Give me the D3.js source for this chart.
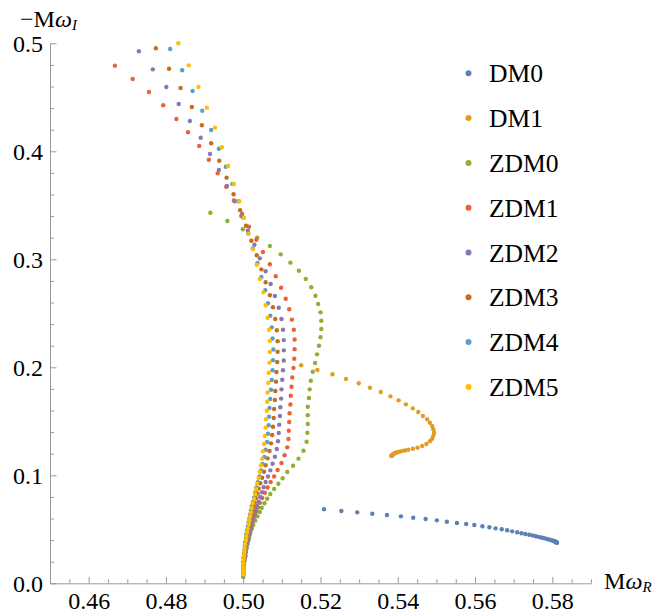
<!DOCTYPE html>
<html>
<head>
<meta charset="utf-8">
<script src="https://cdn.jsdelivr.net/npm/d3@7"></script>
<style>
body { margin: 0; background: #fff; }
svg { display: block; }
svg text { font-family: "Liberation Serif", "DejaVu Serif", "Times New Roman", serif; }
</style>
</head>
<body>
<svg width="669" height="614"></svg>
<script>
// series names, in legend order
var names = ['DM0', 'DM1', 'ZDM0', 'ZDM1', 'ZDM2', 'ZDM3', 'ZDM4', 'ZDM5']
var colors = ['#5E81B5', '#E19C24', '#8FB032', '#EB6235', '#8778B3', '#C56E1A', '#5D9EC7', '#FFBF00']

// [M omega_R, -M omega_I]
var dm0 = [[0.5209,0.0685],[0.5254,0.0669],[0.5295,0.0657],[0.5334,0.0644],[0.5372,0.0632],[0.5408,0.0620],[0.5440,0.0607],[0.5472,0.0595],[0.5501,0.0583],[0.5527,0.0570],[0.5553,0.0558],[0.5577,0.0549],[0.5598,0.0540],[0.5619,0.0528],[0.5637,0.0519],[0.5653,0.0509],[0.5669,0.0500],[0.5683,0.0491],[0.5696,0.0481],[0.5709,0.0472],[0.5720,0.0463],[0.5730,0.0456],[0.5740,0.0449],[0.5749,0.0442],[0.5757,0.0436],[0.5764,0.0430],[0.5771,0.0424],[0.5777,0.0419],[0.5783,0.0414],[0.5788,0.0409],[0.5793,0.0404],[0.5797,0.0400],[0.5800,0.0396],[0.5803,0.0393],[0.5805,0.0390],[0.5807,0.0387],[0.5808,0.0385],[0.5809,0.0383],[0.5810,0.0381],[0.5811,0.0379],[0.5811,0.0378],[0.5811,0.0377],[0.5812,0.0376]]

var dm1 = [[0.5150,0.2019],[0.5192,0.1975],[0.5231,0.1935],[0.5266,0.1892],[0.5299,0.1852],[0.5328,0.1811],[0.5356,0.1771],[0.5381,0.1731],[0.5402,0.1694],[0.5421,0.1657],[0.5439,0.1620],[0.5453,0.1586],[0.5465,0.1549],[0.5476,0.1519],[0.5483,0.1487],[0.5489,0.1456],[0.5492,0.1426],[0.5494,0.1394],[0.5492,0.1367],[0.5489,0.1339],[0.5483,0.1315],[0.5474,0.1290],[0.5463,0.1271],[0.5451,0.1256],[0.5439,0.1246],[0.5427,0.1237],[0.5418,0.1230],[0.5410,0.1224],[0.5404,0.1219],[0.5399,0.1214],[0.5395,0.1209],[0.5392,0.1204],[0.5390,0.1199],[0.5388,0.1195],[0.5387,0.1191],[0.5386,0.1188],[0.5385,0.1185],[0.5385,0.1183],[0.5384,0.1181],[0.5384,0.1180],[0.5384,0.1179]]

var zdm0 = [[0.4915,0.3431],[0.4959,0.3355],[0.4999,0.3278],[0.5036,0.3200],[0.5069,0.3123],[0.5097,0.3046],[0.5122,0.2969],[0.5144,0.2894],[0.5162,0.2818],[0.5176,0.2741],[0.5187,0.2663],[0.5194,0.2586],[0.5200,0.2509],[0.5202,0.2431],[0.5202,0.2355],[0.5200,0.2278],[0.5196,0.2200],[0.5191,0.2120],[0.5186,0.2040],[0.5180,0.1959],[0.5175,0.1876],[0.5172,0.1796],[0.5170,0.1716],[0.5167,0.1635],[0.5167,0.1556],[0.5167,0.1475],[0.5166,0.1394],[0.5164,0.1311],[0.5156,0.1228],[0.5143,0.1154],[0.5129,0.1089],[0.5114,0.1031],[0.5102,0.0972],[0.5091,0.0922],[0.5080,0.0873],[0.5070,0.0827],[0.5062,0.0783],[0.5055,0.0741],[0.5048,0.0700],[0.5043,0.0660],[0.5037,0.0620],[0.5031,0.0580],[0.5026,0.0540],[0.5022,0.0503],[0.5018,0.0463],[0.5015,0.0425],[0.5012,0.0388],[0.5009,0.0350],[0.5007,0.0312],[0.5005,0.0275],[0.5003,0.0238],[0.5002,0.0201],[0.5001,0.0164],[0.5000,0.0127],[0.5000,0.0091],[0.5000,0.0058]]

var zdm1 = [[0.4668,0.4793],[0.4714,0.4669],[0.4756,0.4549],[0.4793,0.4426],[0.4827,0.4299],[0.4857,0.4176],[0.4886,0.4049],[0.4911,0.3922],[0.4934,0.3796],[0.4956,0.3672],[0.4976,0.3544],[0.4997,0.3422],[0.5015,0.3302],[0.5034,0.3181],[0.5051,0.3068],[0.5069,0.2954],[0.5084,0.2843],[0.5098,0.2737],[0.5110,0.2635],[0.5119,0.2537],[0.5126,0.2441],[0.5131,0.2348],[0.5133,0.2257],[0.5133,0.2168],[0.5132,0.2079],[0.5130,0.1994],[0.5127,0.1906],[0.5125,0.1820],[0.5123,0.1737],[0.5122,0.1656],[0.5120,0.1574],[0.5119,0.1494],[0.5118,0.1413],[0.5117,0.1336],[0.5114,0.1259],[0.5107,0.1185],[0.5099,0.1114],[0.5089,0.1049],[0.5080,0.0989],[0.5071,0.0938],[0.5063,0.0887],[0.5056,0.0838],[0.5049,0.0790],[0.5043,0.0745],[0.5038,0.0702],[0.5033,0.0660],[0.5028,0.0619],[0.5024,0.0577],[0.5020,0.0533],[0.5016,0.0491],[0.5013,0.0447],[0.5010,0.0404],[0.5008,0.0361],[0.5005,0.0318],[0.5003,0.0274],[0.5002,0.0231],[0.5001,0.0188],[0.5000,0.0144],[0.5000,0.0107],[0.5000,0.0077]]

var zdm2 = [[0.4730,0.4926],[0.4766,0.4759],[0.4801,0.4595],[0.4833,0.4438],[0.4862,0.4281],[0.4890,0.4126],[0.4914,0.3975],[0.4937,0.3827],[0.4958,0.3679],[0.4978,0.3537],[0.4995,0.3401],[0.5012,0.3265],[0.5029,0.3135],[0.5043,0.3009],[0.5058,0.2889],[0.5071,0.2771],[0.5082,0.2660],[0.5092,0.2552],[0.5099,0.2447],[0.5103,0.2348],[0.5105,0.2252],[0.5105,0.2157],[0.5105,0.2063],[0.5103,0.1973],[0.5101,0.1885],[0.5099,0.1796],[0.5098,0.1710],[0.5096,0.1630],[0.5095,0.1549],[0.5093,0.1469],[0.5092,0.1392],[0.5090,0.1315],[0.5087,0.1244],[0.5082,0.1172],[0.5076,0.1107],[0.5070,0.1046],[0.5064,0.0989],[0.5058,0.0938],[0.5053,0.0889],[0.5049,0.0843],[0.5044,0.0799],[0.5040,0.0756],[0.5036,0.0716],[0.5033,0.0676],[0.5030,0.0636],[0.5026,0.0597],[0.5023,0.0558],[0.5021,0.0519],[0.5018,0.0481],[0.5016,0.0442],[0.5014,0.0403],[0.5011,0.0364],[0.5009,0.0327],[0.5007,0.0290],[0.5006,0.0253],[0.5004,0.0216],[0.5002,0.0179],[0.5001,0.0142],[0.5000,0.0105],[0.5000,0.0072]]

var zdm3 = [[0.4774,0.4954],[0.4808,0.4765],[0.4838,0.4586],[0.4867,0.4410],[0.4893,0.4241],[0.4917,0.4074],[0.4938,0.3913],[0.4957,0.3756],[0.4975,0.3603],[0.4992,0.3455],[0.5007,0.3310],[0.5021,0.3172],[0.5035,0.3037],[0.5047,0.2907],[0.5058,0.2787],[0.5069,0.2667],[0.5077,0.2556],[0.5083,0.2447],[0.5087,0.2343],[0.5089,0.2242],[0.5089,0.2144],[0.5088,0.2049],[0.5086,0.1956],[0.5085,0.1867],[0.5083,0.1781],[0.5082,0.1697],[0.5080,0.1614],[0.5079,0.1531],[0.5077,0.1450],[0.5075,0.1373],[0.5072,0.1296],[0.5068,0.1225],[0.5063,0.1157],[0.5058,0.1093],[0.5054,0.1033],[0.5049,0.0978],[0.5044,0.0926],[0.5040,0.0877],[0.5037,0.0831],[0.5033,0.0787],[0.5030,0.0745],[0.5027,0.0706],[0.5025,0.0667],[0.5022,0.0629],[0.5020,0.0592],[0.5018,0.0555],[0.5016,0.0518],[0.5013,0.0481],[0.5011,0.0444],[0.5010,0.0407],[0.5008,0.0371],[0.5006,0.0335],[0.5005,0.0299],[0.5004,0.0263],[0.5002,0.0227],[0.5001,0.0191],[0.5000,0.0155],[0.5000,0.0119],[0.5000,0.0086]]

var zdm4 = [[0.4811,0.4947],[0.4842,0.4750],[0.4869,0.4558],[0.4894,0.4376],[0.4917,0.4197],[0.4937,0.4024],[0.4955,0.3857],[0.4972,0.3697],[0.4987,0.3537],[0.5000,0.3387],[0.5013,0.3241],[0.5025,0.3100],[0.5037,0.2966],[0.5047,0.2836],[0.5057,0.2713],[0.5064,0.2593],[0.5070,0.2478],[0.5074,0.2370],[0.5076,0.2267],[0.5078,0.2165],[0.5077,0.2066],[0.5076,0.1973],[0.5074,0.1882],[0.5072,0.1792],[0.5070,0.1706],[0.5068,0.1623],[0.5067,0.1543],[0.5066,0.1463],[0.5064,0.1385],[0.5062,0.1308],[0.5058,0.1237],[0.5055,0.1169],[0.5050,0.1105],[0.5046,0.1046],[0.5042,0.0989],[0.5038,0.0936],[0.5034,0.0886],[0.5031,0.0840],[0.5028,0.0795],[0.5025,0.0754],[0.5022,0.0714],[0.5020,0.0675],[0.5018,0.0637],[0.5016,0.0600],[0.5014,0.0563],[0.5012,0.0526],[0.5010,0.0490],[0.5008,0.0454],[0.5007,0.0418],[0.5005,0.0381],[0.5004,0.0345],[0.5003,0.0309],[0.5002,0.0273],[0.5001,0.0237],[0.5000,0.0201],[0.5000,0.0165],[0.5000,0.0129],[0.5000,0.0093]]

var zdm5 = [[0.4832,0.5000],[0.4859,0.4796],[0.4884,0.4595],[0.4906,0.4404],[0.4927,0.4219],[0.4945,0.4037],[0.4961,0.3864],[0.4976,0.3697],[0.4990,0.3537],[0.5002,0.3385],[0.5014,0.3234],[0.5025,0.3093],[0.5035,0.2950],[0.5043,0.2818],[0.5052,0.2694],[0.5058,0.2574],[0.5063,0.2459],[0.5067,0.2348],[0.5069,0.2243],[0.5069,0.2142],[0.5068,0.2043],[0.5066,0.1950],[0.5065,0.1857],[0.5063,0.1767],[0.5062,0.1681],[0.5061,0.1598],[0.5059,0.1519],[0.5058,0.1441],[0.5056,0.1364],[0.5054,0.1290],[0.5051,0.1222],[0.5049,0.1154],[0.5046,0.1093],[0.5043,0.1033],[0.5040,0.0975],[0.5036,0.0922],[0.5033,0.0873],[0.5031,0.0827],[0.5028,0.0783],[0.5025,0.0741],[0.5022,0.0697],[0.5020,0.0657],[0.5018,0.0618],[0.5016,0.0581],[0.5014,0.0544],[0.5012,0.0506],[0.5010,0.0470],[0.5008,0.0434],[0.5007,0.0398],[0.5005,0.0362],[0.5004,0.0326],[0.5003,0.0290],[0.5002,0.0255],[0.5001,0.0219],[0.5000,0.0184],[0.5000,0.0149],[0.5000,0.0114],[0.5000,0.0081]]

var series = [dm0, dm1, zdm0, zdm1, zdm2, zdm3, zdm4, zdm5]

// tick labels
var xMajor = [0.46, 0.48, 0.50, 0.52, 0.54, 0.56, 0.58]
var yMajor = [0.0, 0.1, 0.2, 0.3, 0.4, 0.5]

var xMinor = d3.range(91, 119).map(function(i){ return i * 0.005 })
    .filter(function(v){ return Math.round(v * 1000) % 20 != 0 })
var yMinor = d3.range(1, 26).map(function(i){ return i * 0.02 })
    .filter(function(v){ return Math.round(v * 100) % 10 != 0 })

var x = d3.scaleLinear().domain([0.45, 0.59]).range([50, 591])
var y = d3.scaleLinear().domain([0, 0.5]).range([583.3, 43.3])

var svg = d3.select('svg')
var axisColor = '#999'

// pick a font size so that a sample string has the width seen in the picture
function fitSize(sample, width) {
    var t = svg.append('text').style('font-size', '100px').text(sample)
    var w = t.node().getComputedTextLength()
    t.remove()
    return 100 * width / w
}
var tickSize = fitSize('0.46', 42)
var legSize = fitSize('DM0', 54)
var labSize = fitSize('\u2212M', 35)

// minor ticks
svg.append('g')
    .attr('transform', 'translate(0,583.3)')
    .call(d3.axisBottom(x).tickValues(xMinor).tickSize(-4).tickSizeOuter(0).tickFormat(''))
    .call(function(g){ g.select('.domain').remove() })
svg.append('g')
    .attr('transform', 'translate(50,0)')
    .call(d3.axisLeft(y).tickValues(yMinor).tickSize(-4).tickSizeOuter(0).tickFormat(''))
    .call(function(g){ g.select('.domain').remove() })

// major ticks + labels
var gx = svg.append('g')
    .attr('transform', 'translate(0,583.3)')
    .call(d3.axisBottom(x).tickValues(xMajor).tickSize(-6.5).tickSizeOuter(0).tickFormat(d3.format('.2f')))
gx.selectAll('text').attr('y', 25.5).attr('dy', null)

var gy = svg.append('g')
    .attr('transform', 'translate(50,0)')
    .call(d3.axisLeft(y).tickValues(yMajor).tickSize(-6.5).tickSizeOuter(0).tickPadding(7).tickFormat(d3.format('.1f')))
gy.selectAll('text').attr('dy', '0.33em')

svg.selectAll('.tick line').attr('stroke', axisColor)
svg.selectAll('.domain').attr('stroke', axisColor)
svg.selectAll('.tick text')
    .attr('fill', '#000')
    .attr('font-family', null)
    .style('font-size', tickSize + 'px')

// axis labels
var ly = svg.append('text').attr('x', 20).attr('y', 27).style('font-size', labSize + 'px')
ly.append('tspan').text('\u2212M')
ly.append('tspan').attr('font-style', 'italic').text('\u03c9')
ly.append('tspan').attr('font-style', 'italic').style('font-size', (labSize * 0.62) + 'px').attr('dy', 3).text('I')

var lx = svg.append('text').attr('x', 604).attr('y', 589).style('font-size', labSize + 'px')
lx.append('tspan').text('M')
lx.append('tspan').attr('font-style', 'italic').text('\u03c9')
lx.append('tspan').attr('font-style', 'italic').style('font-size', (labSize * 0.62) + 'px').attr('dy', 3).text('R')

// points
var groups = svg.selectAll('g.series')
    .data(series)
    .enter()
    .append('g')
    .attr('class', 'series')
    .attr('fill', function(d, i){ return colors[i] })

groups.selectAll('circle')
    .data(function(d){ return d })
    .enter()
    .append('circle')
    .attr('cx', function(d){ return x(d[0]) })
    .attr('cy', function(d){ return y(d[1]) })
    .attr('r', 2.2)

// legend
var leg = svg.selectAll('g.legend')
    .data(names)
    .enter()
    .append('g')
    .attr('class', 'legend')
    .attr('transform', function(d, i){ return 'translate(468.5,' + (73.3 + i * 44.8) + ')' })

leg.append('circle')
    .attr('r', 3)
    .attr('fill', function(d, i){ return colors[i] })

leg.append('text')
    .attr('x', 20.5)
    .attr('y', 9)
    .style('font-size', legSize + 'px')
    .text(function(d){ return d })
</script>
</body>
</html>
